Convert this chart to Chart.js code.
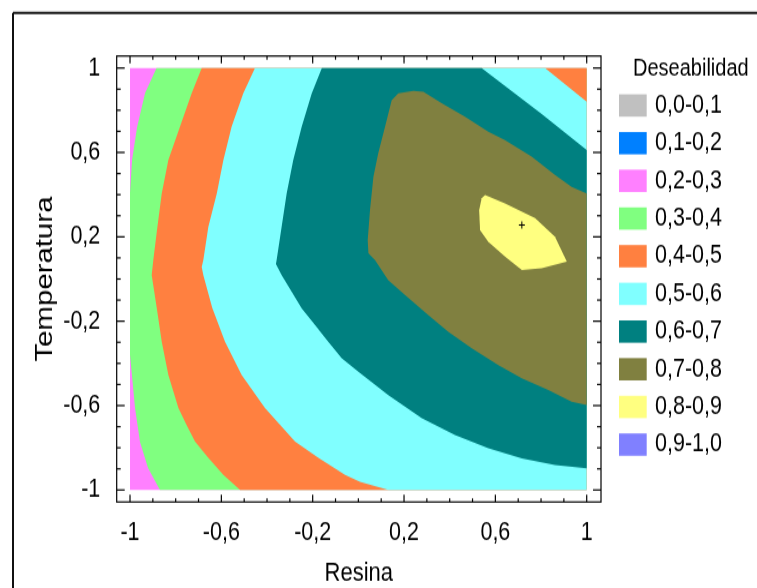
<!DOCTYPE html>
<html>
<head>
<meta charset="utf-8">
<script src="https://cdn.jsdelivr.net/npm/chart.js@4/dist/chart.umd.min.js"></script>
<style>
  body { margin: 0; background: #fff; }
</style>
</head>
<body>
<!-- the original picture is stretched vertically, so the canvas is drawn at 490 px and shown at 588 px -->
<canvas id="chart" width="757" height="490" style="width:757px;height:588px;display:block"></canvas>
<script>
// ejes
const tickValues = [-1, -0.6, -0.2, 0.2, 0.6, 1];
const tickLabels = ['-1', '-0,6', '-0,2', '0,2', '0,6', '1'];
const minorSteps = [-1, -0.9, -0.8, -0.7, -0.6, -0.5, -0.4, -0.3, -0.2, -0.1, 0, 0.1, 0.2, 0.3, 0.4, 0.5, 0.6, 0.7, 0.8, 0.9, 1];

// leyenda
const bandLabels = ['0,0-0,1', '0,1-0,2', '0,2-0,3', '0,3-0,4', '0,4-0,5', '0,5-0,6', '0,6-0,7', '0,7-0,8', '0,8-0,9', '0,9-1,0'];
const bandColors = ['#C0C0C0', '#0080FF', '#FF80FF', '#80FF80', '#FF8040', '#80FFFF', '#008080', '#808040', '#FFFF80', '#8080FF'];

// regiones (Resina, Temperatura) donde la deseabilidad supera cada nivel
const region02 = [[-1, -1], [1, -1], [1, 1], [-1, 1]];
const region03 = [[-0.884, 1], [-0.934, 0.882], [-0.969, 0.72], [-0.991, 0.564], [-1, 0.408], [-1, -0.36], [-0.978, -0.611], [-0.956, -0.773], [-0.921, -0.896], [-0.869, -1], [1, -1], [1, 1]];
const region04 = [[-0.686, 1], [-0.73, 0.88], [-0.781, 0.722], [-0.832, 0.564], [-0.861, 0.406], [-0.88, 0.248], [-0.898, 0.09], [-0.905, 0.019], [-0.883, -0.137], [-0.861, -0.297], [-0.832, -0.455], [-0.788, -0.611], [-0.752, -0.692], [-0.715, -0.771], [-0.657, -0.848], [-0.591, -0.929], [-0.518, -1], [1, -1], [1, 1]];
const region05 = [[-0.453, 1], [-0.504, 0.88], [-0.555, 0.722], [-0.591, 0.564], [-0.62, 0.406], [-0.657, 0.248], [-0.679, 0.09], [-0.686, 0.057], [-0.679, 0.019], [-0.64, -0.137], [-0.584, -0.297], [-0.511, -0.455], [-0.409, -0.611], [-0.277, -0.771], [-0.175, -0.848], [-0.058, -0.929], [0.007, -0.961], [0.131, -1], [1, -1], [1, 0.84], [0.818, 1]];
const region06 = [[-0.16, 1], [-0.204, 0.88], [-0.248, 0.722], [-0.285, 0.564], [-0.314, 0.406], [-0.336, 0.248], [-0.358, 0.09], [-0.361, 0.071], [-0.336, 0.019], [-0.248, -0.139], [-0.19, -0.218], [-0.132, -0.297], [-0.073, -0.376], [0, -0.439], [0.131, -0.55], [0.278, -0.66], [0.423, -0.739], [0.569, -0.802], [0.716, -0.85], [0.861, -0.882], [1, -0.897], [1, 0.611], [0.803, 0.782], [0.54, 1]];
const region07 = [[1, 0.406], [0.934, 0.437], [0.861, 0.493], [0.759, 0.58], [0.642, 0.659], [0.569, 0.698], [0.467, 0.769], [0.365, 0.833], [0.285, 0.888], [0.241, 0.892], [0.175, 0.88], [0.146, 0.848], [0.117, 0.722], [0.087, 0.596], [0.066, 0.485], [0.051, 0.327], [0.041, 0.185], [0.044, 0.122], [0.073, 0.09], [0.131, -0.005], [0.204, -0.076], [0.306, -0.171], [0.394, -0.25], [0.497, -0.328], [0.613, -0.408], [0.716, -0.471], [0.832, -0.526], [0.934, -0.581], [1, -0.597]];
const region08 = [[0.555, 0.398], [0.642, 0.359], [0.774, 0.288], [0.861, 0.2], [0.913, 0.082], [0.803, 0.051], [0.716, 0.043], [0.642, 0.106], [0.569, 0.177], [0.533, 0.232], [0.529, 0.327], [0.54, 0.382]];
const optimum = [[0.716, 0.256]];

const font = 'Liberation Sans, Arial, sans-serif';

function region(points, color) {
    return {
        type: 'line',
        data: points.map(p => ({x: p[0], y: p[1]})),
        backgroundColor: color,
        borderWidth: 0,
        pointRadius: 0,
        tension: 0,
        fill: 'shape'
    };
}

// marco, marcas de los ejes y leyenda
const framePlugin = {
    id: 'framePlugin',
    afterDraw(chart) {
        const {ctx, chartArea: a, scales: {x, y}} = chart;
        const line = (x1, y1, x2, y2) => { ctx.beginPath(); ctx.moveTo(x1, y1); ctx.lineTo(x2, y2); ctx.stroke(); };
        ctx.save();
        ctx.strokeStyle = '#000';
        ctx.lineWidth = 1.2;
        ctx.strokeRect(a.left, a.top, a.right - a.left, a.bottom - a.top);
        minorSteps.forEach(v => {
            const major = tickValues.some(m => Math.abs(m - v) < 1e-6);
            const px = x.getPixelForValue(v);
            const py = y.getPixelForValue(v);
            const lx = major ? 8 : 4;
            const ly = major ? 6 : 3;
            line(px, a.bottom, px, a.bottom - ly);
            line(px, a.top, px, a.top + ly);
            line(a.left, py, a.left + lx, py);
            line(a.right, py, a.right - lx, py);
        });
        // recuadro exterior
        ctx.strokeStyle = '#111';
        ctx.lineWidth = 2;
        line(13, 10.8, 757, 10.8);
        line(13, 10.8, 13, 490);

        // leyenda
        ctx.fillStyle = '#000';
        ctx.textBaseline = 'middle';
        ctx.textAlign = 'left';
        ctx.font = '20px ' + font;
        ctx.fillText('Deseabilidad', 633, 57.5);
        ctx.font = '21.5px ' + font;
        bandLabels.forEach((label, i) => {
            const cy = 87.9 + i * 31.4;
            ctx.fillStyle = bandColors[i];
            ctx.fillRect(619, cy - 9.3, 27.7, 18.6);
            ctx.fillStyle = '#000';
            ctx.fillText(label, 655, cy);
        });
        ctx.restore();
    }
};

const axisTicks = {
    color: '#000',
    font: {family: font, size: 21.5},
    autoSkip: false,
    maxRotation: 0,
    callback: (v, i) => tickLabels[i]
};

new Chart(document.getElementById('chart'), {
    type: 'line',
    data: {
        datasets: [
            {
                type: 'line',
                data: optimum.map(p => ({x: p[0], y: p[1]})),
                showLine: false,
                pointStyle: 'cross',
                pointRadius: 3,
                borderColor: '#000',
                borderWidth: 1,
                fill: false
            },
            region(region08, bandColors[8]),
            region(region07, bandColors[7]),
            region(region06, bandColors[6]),
            region(region05, bandColors[5]),
            region(region04, bandColors[4]),
            region(region03, bandColors[3]),
            region(region02, bandColors[2])
        ]
    },
    options: {
        responsive: false,
        devicePixelRatio: 1,
        animation: false,
        events: [],
        layout: {padding: {top: 46.7, right: 156, left: 0, bottom: 0}},
        plugins: {legend: {display: false}, tooltip: {enabled: false}},
        scales: {
            x: {
                type: 'linear',
                min: -1.0583,
                max: 1.0626,
                grid: {display: false},
                border: {display: false},
                afterBuildTicks: s => { s.ticks = tickValues.map(v => ({value: v})); },
                afterFit: s => { s.height = 71.7; },
                ticks: Object.assign({padding: 5}, axisTicks),
                title: {
                    display: true,
                    text: 'Resina',
                    color: '#000',
                    font: {family: font, size: 22, lineHeight: 1},
                    padding: {top: 0, bottom: 1}
                }
            },
            y: {
                type: 'linear',
                min: -1.0569,
                max: 1.0569,
                grid: {display: false},
                border: {display: false},
                afterBuildTicks: s => { s.ticks = tickValues.map(v => ({value: v})); },
                afterFit: s => { s.width = 116.7; },
                ticks: Object.assign({padding: 8.4}, axisTicks),
                title: {
                    display: true,
                    text: 'Temperatura',
                    color: '#000',
                    font: {family: font, size: 24.5, lineHeight: 1},
                    padding: {top: 32.5, bottom: 0}
                }
            }
        }
    },
    plugins: [framePlugin]
});
</script>
</body>
</html>
